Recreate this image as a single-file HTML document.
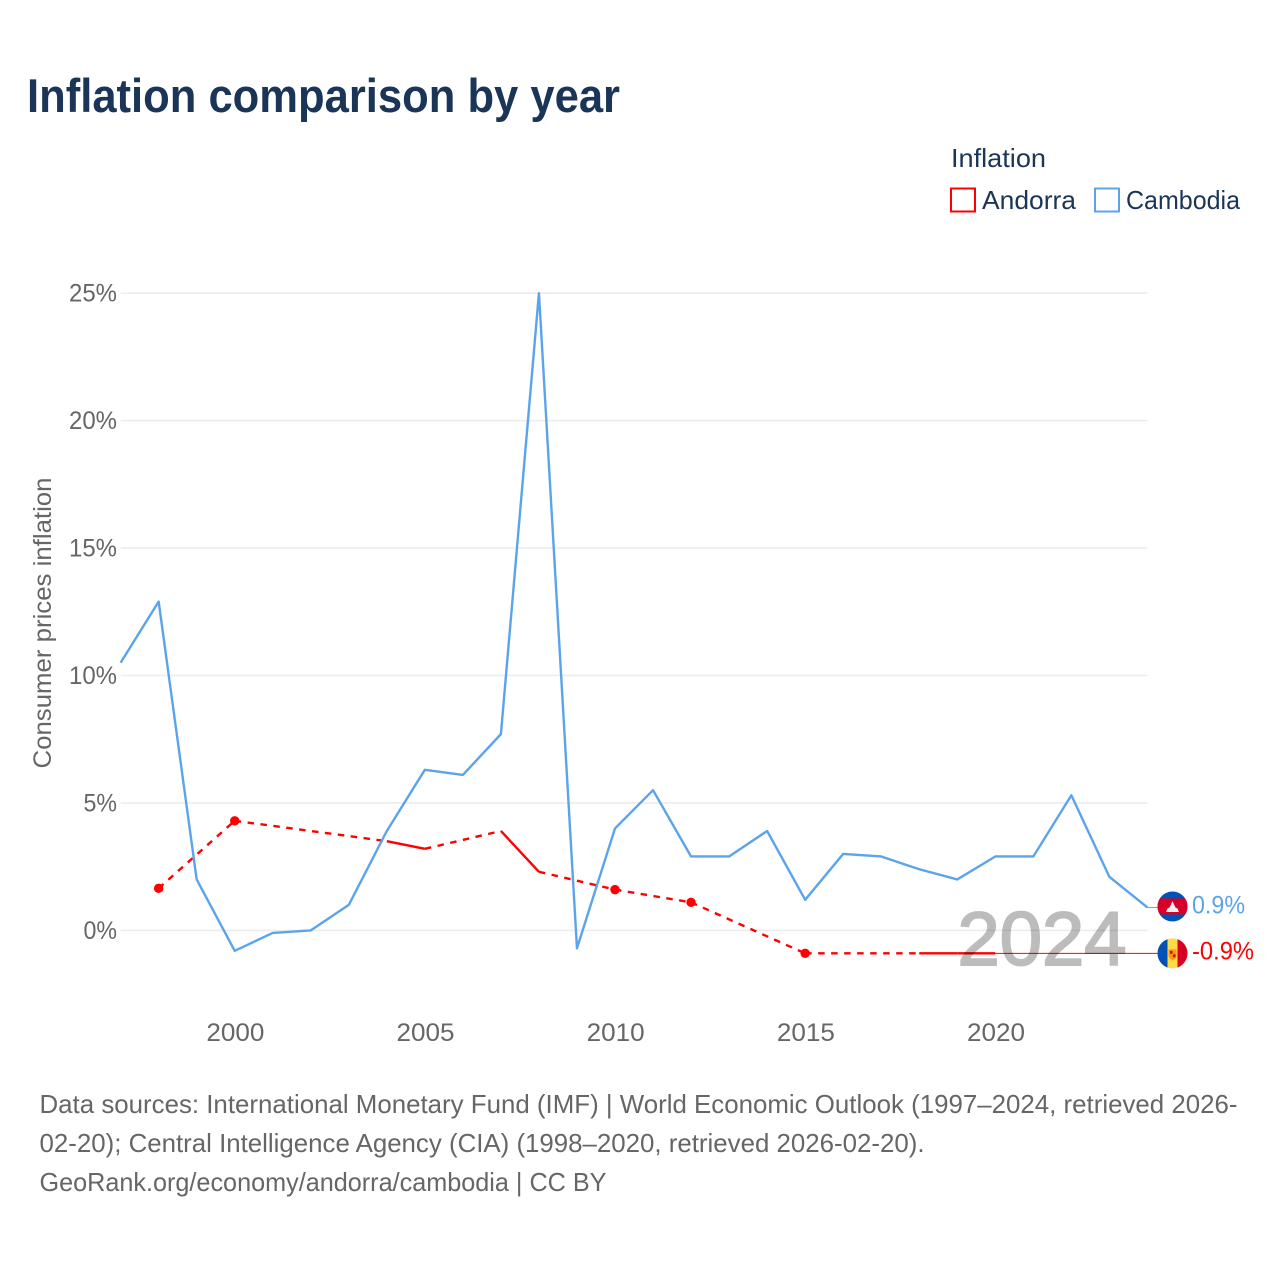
<!DOCTYPE html>
<html lang="en">
<head>
<meta charset="utf-8">
<title>Inflation comparison by year</title>
<style>
html,body{margin:0;padding:0;background:#fff;width:1280px;height:1280px;overflow:hidden}
svg{display:block}
text{font-family:"Liberation Sans",sans-serif}
</style>
</head>
<body>
<svg id="chart" xmlns="http://www.w3.org/2000/svg" width="1280" height="1280" viewBox="0 0 1280 1280">
  <rect x="0" y="0" width="1280" height="1280" fill="#fff"/>
  <text x="27" y="112" font-size="47" font-weight="700" fill="#1a3557" textLength="593" lengthAdjust="spacingAndGlyphs">Inflation comparison by year</text>

  <g>
    <text x="951" y="167" font-size="26" fill="#1a3557" textLength="95" lengthAdjust="spacingAndGlyphs">Inflation</text>
    <rect x="951" y="188.500" width="24" height="23" fill="#fff" stroke="#ff0000" stroke-width="2"/>
    <text x="982" y="209" font-size="26" fill="#1a3557" textLength="94" lengthAdjust="spacingAndGlyphs">Andorra</text>
    <rect x="1095" y="188.500" width="24" height="23" fill="#fff" stroke="#5ba4ec" stroke-width="2"/>
    <text x="1126" y="209" font-size="26" fill="#1a3557" textLength="114" lengthAdjust="spacingAndGlyphs">Cambodia</text>
  </g>

  <g id="grid"></g>
  <g id="y-ticks"></g>
  <g id="x-ticks"></g>
  <text x="0" y="0" transform="translate(51,623) rotate(-90)" text-anchor="middle" font-size="25" fill="#666" textLength="291" lengthAdjust="spacingAndGlyphs">Consumer prices inflation</text>

  <g id="series"></g>

  <text x="1126.500" y="965" text-anchor="end" font-size="76" fill="#000" stroke="#000" stroke-width="2" opacity="0.26" textLength="169" lengthAdjust="spacingAndGlyphs">2024</text>

  <defs>
    <clipPath id="flag-clip"><circle cx="0" cy="0" r="15"/></clipPath>
  </defs>
  <g id="flag-cambodia" clip-path="url(#flag-clip)">
    <rect x="-15" y="-15" width="30" height="30" fill="#0052b4"/>
    <rect x="-15" y="-8" width="30" height="16" fill="#d80027"/>
    <polygon points="-6.500,5.500 -5,2 -3,1 -1.500,-2 0,-5.500 1.500,-2 3,1 5,2 6.500,5.500" fill="#f0f0f0"/>
  </g>
  <g id="flag-andorra" clip-path="url(#flag-clip)">
    <rect x="-15" y="-15" width="30" height="30" fill="#ffda44"/>
    <rect x="-15" y="-15" width="10" height="30" fill="#0052b4"/>
    <rect x="5" y="-15" width="10" height="30" fill="#d80027"/>
    <path d="M-4,-4 H4 V2 Q4,5 0,7 Q-4,5 -4,2 Z" fill="#ff9811"/>
    <rect x="-2.500" y="-2.500" width="2.500" height="3" fill="#d80027"/>
    <rect x="0.500" y="1" width="2.500" height="3" fill="#d80027"/>
  </g>
  <text id="end-label-cambodia" x="1192" font-size="25" fill="#5ba4ec" lengthAdjust="spacingAndGlyphs"></text>
  <text id="end-label-andorra" x="1192" font-size="25" fill="#ff0000" lengthAdjust="spacingAndGlyphs"></text>

  <g font-size="26" fill="#666">
    <text x="39.500" y="1113" textLength="1198" lengthAdjust="spacingAndGlyphs">Data sources: International Monetary Fund (IMF) | World Economic Outlook (1997–2024, retrieved 2026-</text>
    <text x="39.500" y="1152" textLength="885" lengthAdjust="spacingAndGlyphs">02-20); Central Intelligence Agency (CIA) (1998–2020, retrieved 2026-02-20).</text>
    <text x="39.500" y="1191" textLength="567" lengthAdjust="spacingAndGlyphs">GeoRank.org/economy/andorra/cambodia | CC BY</text>
  </g>
</svg>
<script>
const years = [1997,1998,1999,2000,2001,2002,2003,2004,2005,2006,2007,2008,2009,2010,2011,2012,2013,2014,2015,2016,2017,2018,2019,2020,2021,2022,2023,2024];
const cambodiaValues = [10.5,12.9,2.0,-0.8,-0.1,0.0,1.0,3.9,6.3,6.1,7.7,25.0,-0.7,4.0,5.5,2.9,2.9,3.9,1.2,3.0,2.9,2.4,2.0,2.9,2.9,5.3,2.1,0.9];
const andorraValues = [null,1.65,null,4.3,null,null,null,3.5,3.2,null,3.9,2.3,null,1.6,null,1.1,null,null,-0.9,null,null,-0.9,-0.9,-0.9,null,null,null,null];
const yTickValues = [0,5,10,15,20,25];
const xTickYears = [2000,2005,2010,2015,2020];

const NS = 'http://www.w3.org/2000/svg';
const BLUE = '#5ba4ec';
const RED = '#ff0000';
const X_2000 = 234.7, X_PER_YEAR = 38.03;
const Y_ZERO = 930.4, Y_PER_UNIT = 25.49;
const LEADER_END = 1158;
const LINE_WIDTH = 2.4;
function xScale(year){ return X_2000 + (year - 2000) * X_PER_YEAR; }
function yScale(value){ return Y_ZERO - value * Y_PER_UNIT; }
function make(tag, attrs, parent){
  const el = document.createElementNS(NS, tag);
  for (const k in attrs) el.setAttribute(k, attrs[k]);
  parent.appendChild(el);
  return el;
}
function lastIndex(values){
  for (let i = values.length - 1; i >= 0; i--) if (values[i] !== null) return i;
  return -1;
}
function pct(v){ return v + '%'; }
function pctWidth(str){ return (str.length - 1) * 14.5 + 19; }

const grid = document.getElementById('grid');
const yTicks = document.getElementById('y-ticks');
const xTicks = document.getElementById('x-ticks');
const series = document.getElementById('series');

yTickValues.forEach(function(v){
  const line = make('line', {x1:xScale(1997), x2:xScale(2024), y1:yScale(v), y2:yScale(v), stroke:'#ececec', 'stroke-width':1.5}, grid);
  
  
  const label = pct(v);
  const t = make('text', {x:117, y:yScale(v)+8.500, 'text-anchor':'end', 'font-size':25, fill:'#666', textLength:pctWidth(label), lengthAdjust:'spacingAndGlyphs'}, yTicks);
  t.textContent = label;
  
  
});
xTickYears.forEach(function(yr){
  const t = make('text', {x:xScale(yr)+0.7, y:1041, 'text-anchor':'middle', 'font-size':25, fill:'#666', textLength:58, lengthAdjust:'spacingAndGlyphs'}, xTicks);
  t.textContent = String(yr);
  
  
});

// Andorra: solid between consecutive years, dashed across gaps, dots on isolated points
const andorraGroup = make('g', {}, series);


const present = [];
andorraValues.forEach(function(v, i){ if (v !== null) present.push(i); });
present.forEach(function(idx, n){
  if (n === 0) return;
  const prev = present[n-1];
  const attrs = {x1:xScale(years[prev]), y1:yScale(andorraValues[prev]), x2:xScale(years[idx]), y2:yScale(andorraValues[idx]), stroke:RED, 'stroke-width':LINE_WIDTH};
  if (years[idx] - years[prev] > 1) attrs['stroke-dasharray'] = '6.500 6.500';
  const seg = make('line', attrs, andorraGroup);
  
  
});
present.forEach(function(idx, n){
  const hasPrev = n > 0 && years[present[n-1]] === years[idx] - 1;
  const hasNext = n < present.length - 1 && years[present[n+1]] === years[idx] + 1;
  if (hasPrev || hasNext) return;
  const dot = make('circle', {cx:xScale(years[idx]), cy:yScale(andorraValues[idx]), r:4.7, fill:RED}, andorraGroup);
  
  
});

// Cambodia: continuous polyline
const camPts = cambodiaValues.map(function(v, i){ return xScale(years[i]) + ',' + yScale(v); }).join(' ');
const camLine = make('polyline', {points:camPts, fill:'none', stroke:BLUE, 'stroke-width':LINE_WIDTH, 'stroke-linejoin':'round'}, series);



// Leaders, flags and end labels follow the last value of each series
const camLast = lastIndex(cambodiaValues);
const andLast = lastIndex(andorraValues);
const camEnd = yScale(cambodiaValues[camLast]);
const andEnd = yScale(andorraValues[andLast]);
const camLeader = make('line', {x1:xScale(years[camLast]), x2:LEADER_END, y1:camEnd, y2:camEnd, stroke:BLUE, 'stroke-width':1}, series);


const andLeader = make('line', {x1:xScale(years[andLast]), x2:LEADER_END, y1:andEnd, y2:andEnd, stroke:RED, 'stroke-width':1}, series);


document.getElementById('flag-cambodia').setAttribute('transform', 'translate(1172.5,' + (camEnd - 1) + ')');
document.getElementById('flag-andorra').setAttribute('transform', 'translate(1172.5,' + andEnd + ')');
const camLabel = document.getElementById('end-label-cambodia');
camLabel.setAttribute('y', camEnd + 6);
camLabel.setAttribute('textLength', 53);
camLabel.textContent = pct(cambodiaValues[camLast]);
const andLabel = document.getElementById('end-label-andorra');
andLabel.setAttribute('y', andEnd + 6);
andLabel.setAttribute('textLength', 62);
andLabel.textContent = pct(andorraValues[andLast]);
</script>
</body>
</html>
